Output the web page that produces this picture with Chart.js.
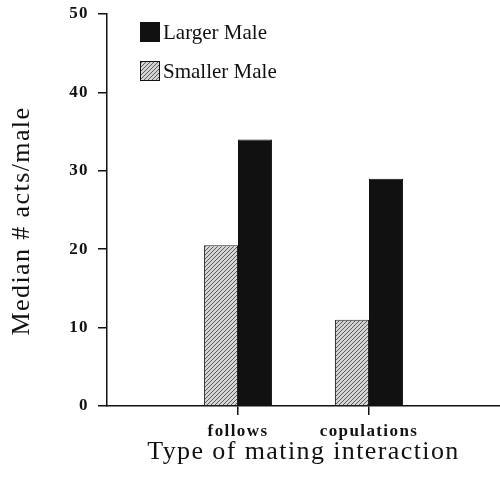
<!DOCTYPE html>
<html>
<head>
<meta charset="utf-8">
<script src="https://cdn.jsdelivr.net/npm/chart.js@4.4.0/dist/chart.umd.min.js"></script>
<style>
  html, body { margin: 0; padding: 0; background: #fff; }
  #wrap { width: 500px; height: 485px; }
</style>
</head>
<body>
<div id="wrap"><canvas id="c" width="500" height="485"></canvas></div>
<script>
// ---- data ----
const categories = ["", "follows", "copulations", ""];
const smallerMale = [null, 20.5, 11, null];
const largerMale = [null, 34, 29, null];
const yTicks = [0, 10, 20, 30, 40, 50];
const seriesLabels = ["Smaller Male", "Larger Male"];
const xTitle = "Type of mating interaction";
const yTitle = "Median # acts/male";

// hatch pattern
function makeHatch() {
  const p = document.createElement('canvas');
  p.width = 4; p.height = 4;
  const g = p.getContext('2d');
  g.fillStyle = '#d4d4d4';
  g.fillRect(0, 0, 4, 4);
  g.strokeStyle = '#5a5a5a';
  g.lineWidth = 1;
  g.beginPath();
  g.moveTo(0, 4); g.lineTo(4, 0);
  g.moveTo(-1, 1); g.lineTo(1, -1);
  g.moveTo(3, 5); g.lineTo(5, 3);
  g.stroke();
  return g.createPattern(p, 'repeat');
}
const ctx0 = document.getElementById('c').getContext('2d');
const hatch = makeHatch();

const spacingPlugin = {
  id: 'spacing',
  beforeDraw(chart) { chart.ctx.letterSpacing = '1.4px'; },
  afterDraw(chart) { chart.ctx.letterSpacing = '0px'; }
};

const legendPlugin = {
  id: 'customLegend',
  afterDraw(chart) {
    const ctx = chart.ctx;
    ctx.save();
    ctx.letterSpacing = '0px';
    const ds = chart.data.datasets.slice().reverse();
    const tops = [22, 61];
    ds.forEach((d, i) => {
      const y = tops[i];
      ctx.fillStyle = d.backgroundColor;
      ctx.fillRect(140, y, 20, 20);
      ctx.strokeStyle = '#111';
      ctx.lineWidth = 1;
      ctx.strokeRect(140.5, y + 0.5, 19, 19);
      ctx.fillStyle = '#111';
      ctx.font = '21px "Liberation Serif"';
      ctx.textAlign = 'left';
      ctx.textBaseline = 'middle';
      ctx.fillText(d.label, 163, y + 11);
    });
    ctx.restore();
  }
};

const yTitlePlugin = {
  id: 'yTitle',
  afterDraw(chart) {
    const ctx = chart.ctx;
    const a = chart.chartArea;
    ctx.save();
    ctx.letterSpacing = '1.4px';
    ctx.translate(22, (a.top + a.bottom) / 2 + 11);
    ctx.rotate(-Math.PI / 2);
    ctx.font = '26px "Liberation Serif"';
    ctx.fillStyle = '#111';
    ctx.textAlign = 'center';
    ctx.textBaseline = 'middle';
    ctx.fillText(yTitle, 0, 0);
    ctx.restore();
  }
};

new Chart(ctx0, {
  type: 'bar',
  data: {
    labels: categories,
    datasets: [
      { label: seriesLabels[0], data: smallerMale, backgroundColor: hatch, borderColor: '#222', borderWidth: 1 },
      { label: seriesLabels[1], data: largerMale, backgroundColor: '#111111', borderColor: '#111111', borderWidth: 1 }
    ]
  },
  options: {
    responsive: false,
    animation: false,
    devicePixelRatio: 1,
    layout: { padding: { top: 14, right: 0, left: 0, bottom: 0 } },
    plugins: { legend: { display: false }, tooltip: { enabled: false } },
    datasets: { bar: { barPercentage: 1.0, categoryPercentage: 0.52 } },
    scales: {
      x: {
        offset: false,
        grid: {
          offset: false,
          drawOnChartArea: false,
          drawTicks: true,
          tickLength: 9,
          lineWidth: 1.5,
          color: (c) => (c.index === 1 || c.index === 2) ? '#111' : 'rgba(0,0,0,0)'
        },
        border: { display: true, color: '#111', width: 1.5 },
        ticks: {
          color: '#111',
          font: { family: 'Liberation Serif', size: 17, weight: 'bold' },
          padding: 6,
          maxRotation: 0,
          autoSkip: false
        },
        title: {
          display: true,
          text: xTitle,
          color: '#111',
          font: { family: 'Liberation Serif', size: 26 },
          padding: { top: 0, bottom: 17 }
        },
        afterFit(s) { s.height = 79; s.paddingLeft = 0; s.paddingRight = 0; }
      },
      y: {
        min: 0,
        max: 50,
        afterBuildTicks(s) { s.ticks = yTicks.map(v => ({ value: v })); },
        grid: { drawOnChartArea: false, drawTicks: true, tickLength: 9, lineWidth: 1.5, color: '#111' },
        border: { display: true, color: '#111', width: 1.5 },
        ticks: {
          color: '#111',
          font: { family: 'Liberation Serif', size: 17, weight: 'bold' },
          padding: 9
        },
        title: { display: false },
        afterFit(s) { s.width = 107; s.paddingTop = 0; s.paddingBottom = 0; }
      }
    }
  },
  plugins: [spacingPlugin, legendPlugin, yTitlePlugin]
});
</script>
</body>
</html>
